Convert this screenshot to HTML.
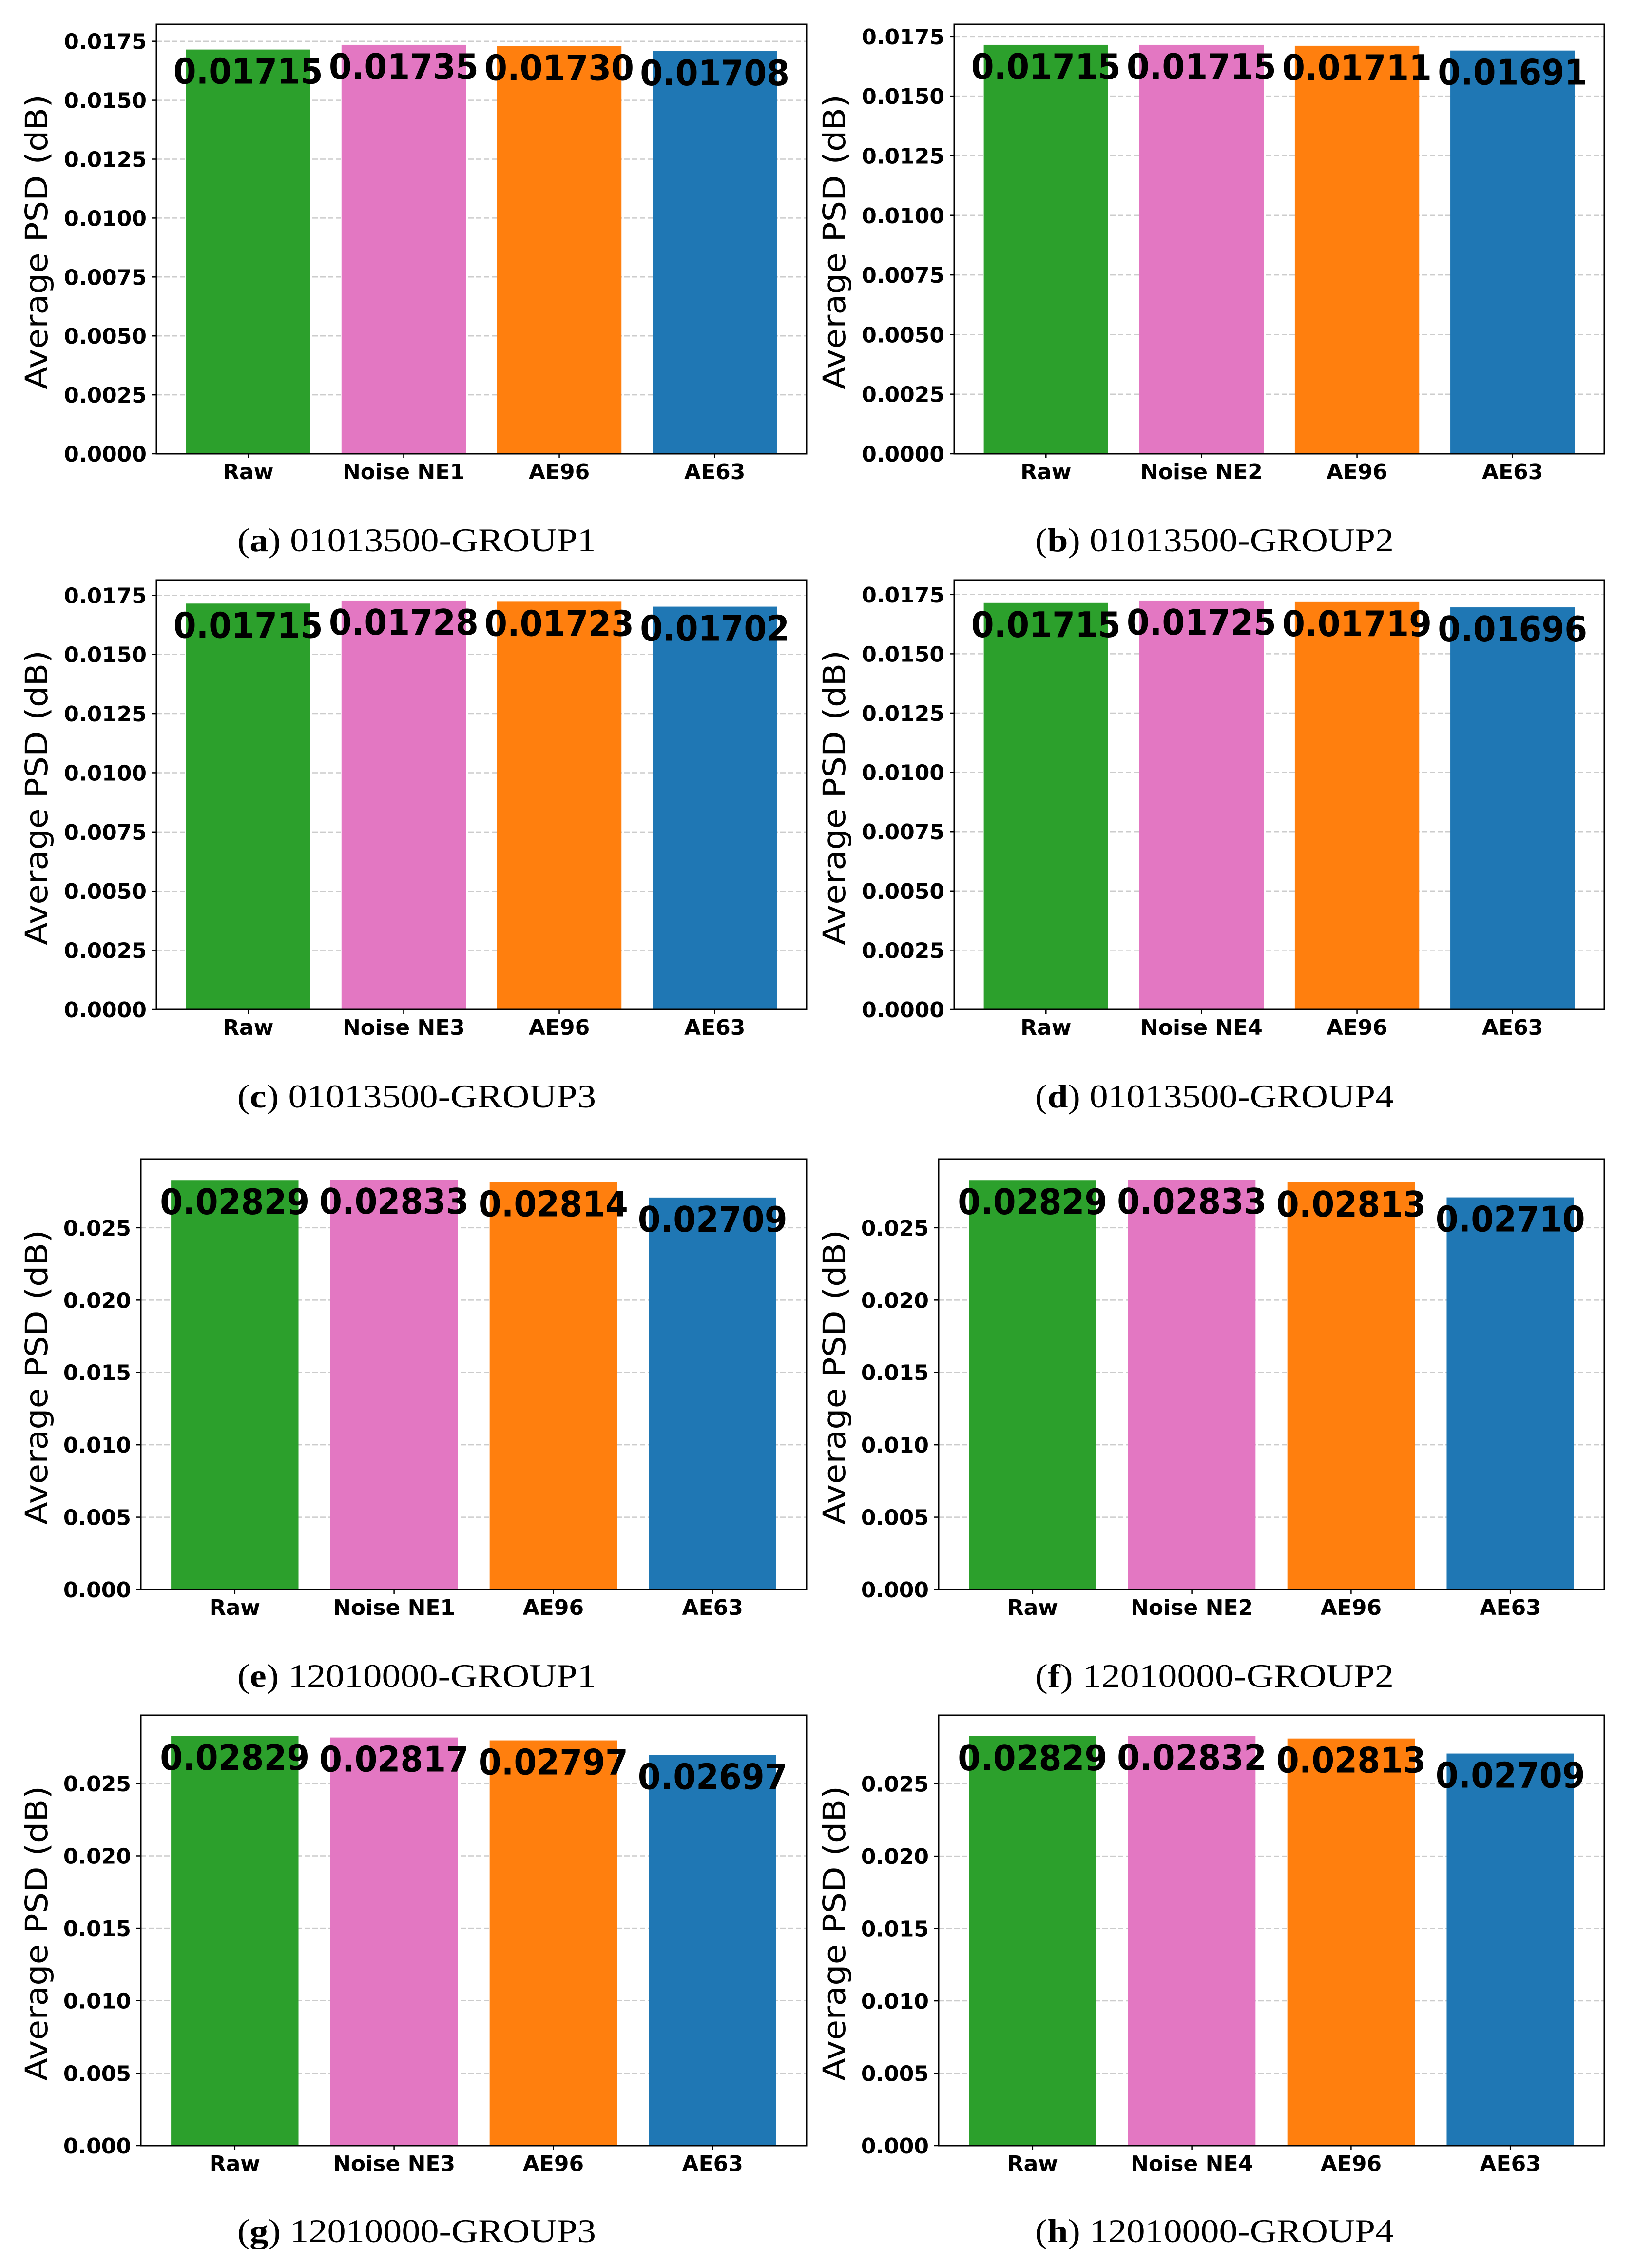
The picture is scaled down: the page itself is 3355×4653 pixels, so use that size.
<!DOCTYPE html>
<html><head><meta charset="utf-8"><style>
html,body{margin:0;padding:0;background:#fff;}
svg{display:block;}
</style></head>
<body>
<svg id="fig" width="3355" height="4653" viewBox="0 0 3355 4653" xmlns="http://www.w3.org/2000/svg"></svg>
<script>
const categoriesBase = ["Raw", "Noise", "AE96", "AE63"];
const noiseNames = ["Noise NE1","Noise NE2","Noise NE3","Noise NE4","Noise NE1","Noise NE2","Noise NE3","Noise NE4"];
const panelLetters = ["a","b","c","d","e","f","g","h"];
const panelTitles = ["01013500-GROUP1","01013500-GROUP2","01013500-GROUP3","01013500-GROUP4","12010000-GROUP1","12010000-GROUP2","12010000-GROUP3","12010000-GROUP4"];
const valuesA = [0.01715, 0.01735, 0.01730, 0.01708];
const valuesB = [0.01715, 0.01715, 0.01711, 0.01691];
const valuesC = [0.01715, 0.01728, 0.01723, 0.01702];
const valuesD = [0.01715, 0.01725, 0.01719, 0.01696];
const valuesE = [0.02829, 0.02833, 0.02814, 0.02709];
const valuesF = [0.02829, 0.02833, 0.02813, 0.02710];
const valuesG = [0.02829, 0.02817, 0.02797, 0.02697];
const valuesH = [0.02829, 0.02832, 0.02813, 0.02709];
const ticksSmall = [0, 0.0025, 0.005, 0.0075, 0.01, 0.0125, 0.015, 0.0175];
const ticksLarge = [0, 0.005, 0.01, 0.015, 0.02, 0.025];

const allValues = [valuesA, valuesB, valuesC, valuesD, valuesE, valuesF, valuesG, valuesH];
const colors = ["#2ca02c", "#e377c2", "#ff7f0e", "#1f77b4"];
const NS = "http://www.w3.org/2000/svg";
const svg = document.getElementById("fig");

function mk(tag, attrs, parent) {
  const e = document.createElementNS(NS, tag);
  for (const k in attrs) e.setAttribute(k, attrs[k]);
  (parent || svg).appendChild(e);
  return e;
}

const rowTops = [50, 1190, 2378, 3519];
const rowH = [881, 881, 883, 883];
const captionY = [1131, 2272, 3461, 4600];

allValues.forEach((vals, p) => {
  const row = Math.floor(p / 2), col = p % 2;
  const large = row >= 2;
  const left = (large ? 289 : 321) + col * 1637;
  const width = large ? 1366 : 1334;
  const top = rowTops[row], h = rowH[row], bottom = top + h;
  const ymax = Math.max(...vals) * 1.05;
  const yS = v => bottom - v / ymax * h;
  const unit = width / 4.18;
  const xS = i => left + (0.59 + i) * unit;
  const ticks = large ? ticksLarge : ticksSmall;
  const dec = large ? 3 : 4;

  const g = mk("g", {});
  
  

  ticks.forEach(t => {
    const y = yS(t);
    const gl = mk("line", {x1: left, x2: left + width, y1: y, y2: y, stroke: "#cccccc", "stroke-width": 2.5, "stroke-dasharray": "11,5"}, g);
    
    
    mk("line", {x1: left - 9, x2: left, y1: y, y2: y, stroke: "#000", "stroke-width": 2.5}, g);
    const tl = mk("text", {x: left - 20, y: y + 16, "text-anchor": "end", "font-family": "DejaVu Sans, Liberation Sans, sans-serif", "font-weight": "bold", "font-size": 44}, g);
    tl.textContent = t.toFixed(dec);
    
    
  });

  vals.forEach((v, i) => {
    const cx = xS(i), bw = 0.8 * unit;
    const r = mk("rect", {x: cx - bw / 2, y: yS(v), width: bw, height: bottom - yS(v), fill: colors[i]}, g);
    
    
    mk("line", {x1: cx, x2: cx, y1: bottom, y2: bottom + 9, stroke: "#000", "stroke-width": 2.5}, g);
    const xl = mk("text", {x: cx, y: bottom + 52, "text-anchor": "middle", "font-family": "DejaVu Sans, Liberation Sans, sans-serif", "font-weight": "bold", "font-size": 44}, g);
    xl.textContent = i === 1 ? noiseNames[p] : categoriesBase[i];
    
    
  });
  vals.forEach((v, i) => {
    const cx = xS(i);
    const vl = mk("text", {x: cx, y: yS(v) + 70, "text-anchor": "middle", "font-family": "DejaVu Sans, Liberation Sans, sans-serif", "font-weight": "bold", "font-size": 72, textLength: 307, lengthAdjust: "spacingAndGlyphs"}, g);
    vl.textContent = v.toFixed(5);
    
    
  });

  const fr = mk("rect", {x: left, y: top, width: width, height: h, fill: "none", stroke: "#000", "stroke-width": 3}, g);
  
  

  const lx = 80 + col * 1637, ly = (top + bottom) / 2 + 6;
  const yl = mk("text", {x: lx, y: ly, transform: `rotate(-90 ${lx} ${ly})`, "text-anchor": "middle", "dominant-baseline": "middle", "font-family": "DejaVu Sans, Liberation Sans, sans-serif", "font-size": 63, textLength: 605, lengthAdjust: "spacingAndGlyphs"}, g);
  yl.textContent = "Average PSD (dB)";
  
  

  const cap = mk("text", {x: 855 + col * 1637, y: captionY[row], "text-anchor": "middle", "font-family": "Liberation Serif, serif", "font-size": 68, textLength: 736, lengthAdjust: "spacingAndGlyphs"}, g);
  
  
  cap.appendChild(document.createTextNode("("));
  const b = mk("tspan", {"font-weight": "bold"}, cap);
  b.textContent = panelLetters[p];
  cap.appendChild(document.createTextNode(") " + panelTitles[p]));
});
</script>
</body></html>
